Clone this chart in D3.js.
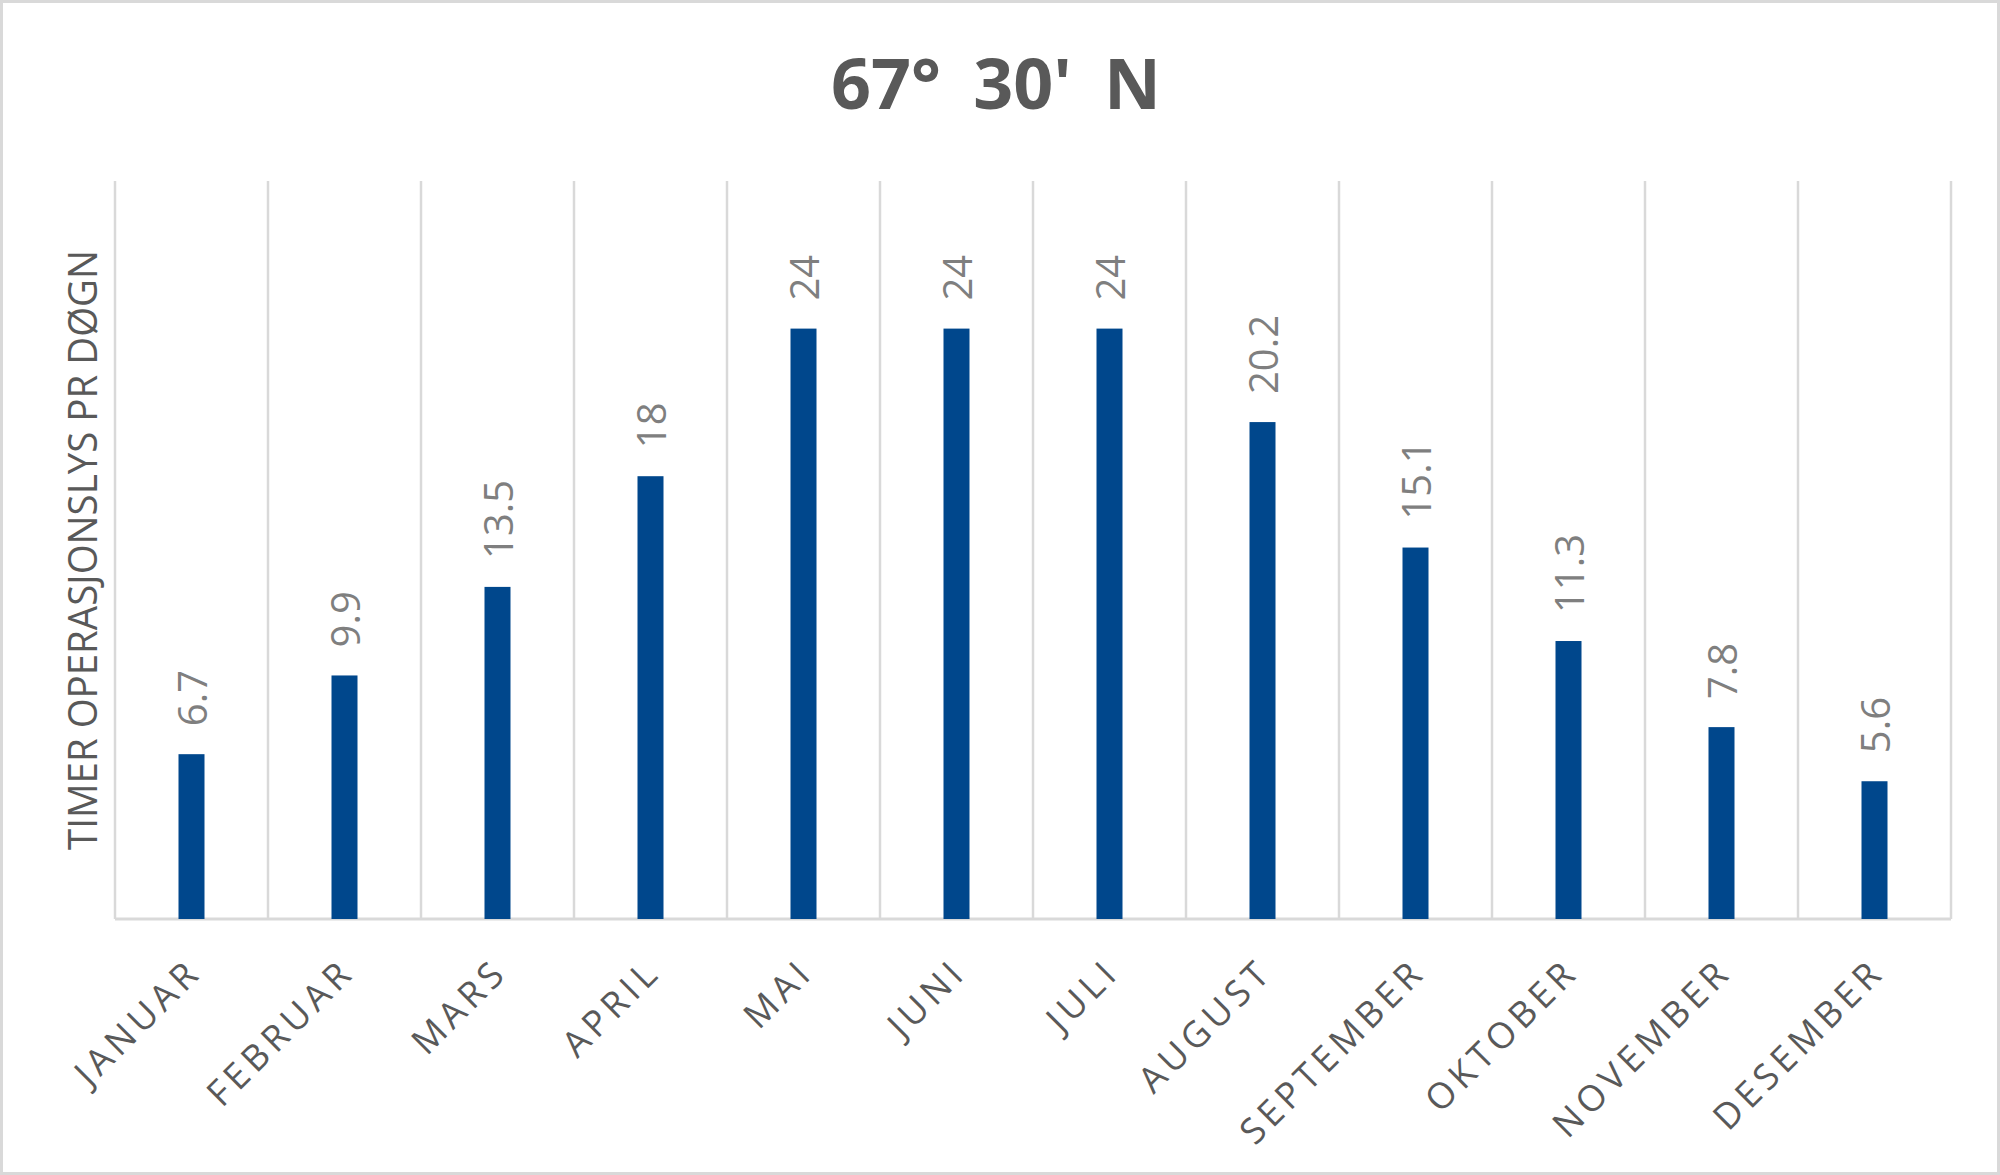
<!DOCTYPE html>
<html>
<head>
<meta charset="utf-8">
<script src="https://cdn.jsdelivr.net/npm/d3@7"></script>
<style>
  body { margin: 0; background: #fff; }
  text { font-family: "Open Sans", sans-serif; }
</style>
</head>
<body>
<div id="chart"></div>
<script>
const MONTHS = ["JANUAR", "FEBRUAR", "MARS", "APRIL", "MAI", "JUNI",
  "JULI", "AUGUST", "SEPTEMBER", "OKTOBER", "NOVEMBER", "DESEMBER"];
const HOURS = [6.7, 9.9, 13.5, 18, 24, 24, 24, 20.2, 15.1, 11.3, 7.8, 5.6];
const Y_DOMAIN = [0, 30];
const TITLE = "67° 30' N";
const Y_TITLE = "TIMER OPERASJONSLYS PR DØGN";

var W = 2000, H = 1175;
var margin = { top: 181, right: 49, bottom: 256, left: 115 };
var barWidth = 26;

var svg = d3.select("#chart")
  .append("svg")
  .attr("width", W)
  .attr("height", H);

// outer frame
svg.append("rect")
  .attr("x", 1.5).attr("y", 1.5)
  .attr("width", W - 3).attr("height", H - 3)
  .attr("fill", "#fff")
  .attr("stroke", "#d9d9d9")
  .attr("stroke-width", 3);

var x = d3.scaleBand()
  .domain(MONTHS)
  .range([margin.left, W - margin.right]);

var y = d3.scaleLinear()
  .domain(Y_DOMAIN)
  .range([H - margin.bottom, margin.top]);

// vertical gridlines at category boundaries
var edges = MONTHS.map(function (m) { return x(m); }).concat([x.range()[1]]);
svg.append("g")
  .selectAll("line")
  .data(edges)
  .enter()
  .append("line")
  .attr("x1", function (d) { return d; })
  .attr("x2", function (d) { return d; })
  .attr("y1", y(Y_DOMAIN[1]))
  .attr("y2", y(0))
  .attr("stroke", "#d9d9d9")
  .attr("stroke-width", 2.5);

// x axis line
svg.append("line")
  .attr("x1", x.range()[0])
  .attr("x2", x.range()[1])
  .attr("y1", y(0))
  .attr("y2", y(0))
  .attr("stroke", "#d9d9d9")
  .attr("stroke-width", 3);

// bars
svg.append("g")
  .selectAll("rect")
  .data(HOURS)
  .enter()
  .append("rect")
  .attr("x", function (d, i) { return x(MONTHS[i]) + (x.bandwidth() - barWidth) / 2; })
  .attr("y", function (d) { return y(d); })
  .attr("width", barWidth)
  .attr("height", function (d) { return y(0) - y(d); })
  .attr("fill", "#00478c");

// value labels
svg.append("g")
  .selectAll("text")
  .data(HOURS)
  .enter()
  .append("text")
  .attr("transform", function (d, i) {
    var cx = x(MONTHS[i]) + x.bandwidth() / 2;
    return "translate(" + (cx + 15) + "," + (y(d) - 28) + ") rotate(-90)";
  })
  .attr("fill", "#7f7f7f")
  .style("font-size", "40px")
  .text(function (d) { return d; });

// month labels
svg.append("g")
  .selectAll("text")
  .data(MONTHS)
  .enter()
  .append("text")
  .attr("transform", function (d) {
    var cx = x(d) + x.bandwidth() / 2;
    return "translate(" + (cx + 12) + "," + (y(0) + 55) + ") rotate(-45)";
  })
  .attr("text-anchor", "end")
  .attr("fill", "#595959")
  .style("font-size", "36px")
  .style("letter-spacing", "5px")
  .text(function (d) { return d; });

// y axis title
svg.append("text")
  .attr("transform", "translate(97," + ((y(0) + y(Y_DOMAIN[1])) / 2) + ") rotate(-90)")
  .attr("text-anchor", "middle")
  .attr("fill", "#595959")
  .attr("textLength", 600)
  .attr("lengthAdjust", "spacingAndGlyphs")
  .style("font-size", "40px")
  .text(Y_TITLE);

// chart title
svg.append("text")
  .attr("x", 996)
  .attr("y", 109)
  .attr("text-anchor", "middle")
  .attr("fill", "#595959")
  .style("font-size", "70px")
  .style("font-weight", "bold")
  .style("word-spacing", "14px")
  .text(TITLE);
</script>
</body>
</html>
